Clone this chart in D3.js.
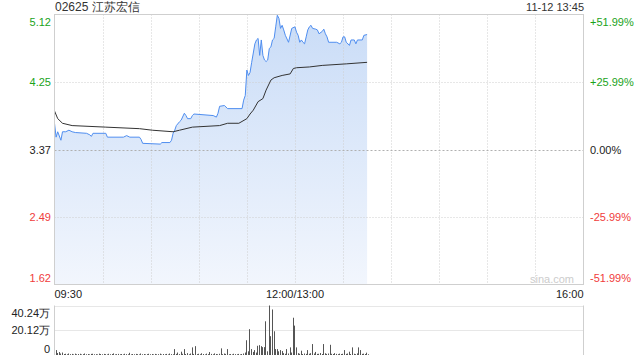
<!DOCTYPE html>
<html><head><meta charset="utf-8">
<script src="https://cdn.jsdelivr.net/npm/d3@7"></script>
<style>
html,body{margin:0;padding:0;background:#fff;}
svg{display:block;font-family:"Liberation Sans",Arial,sans-serif;}
</style></head>
<body>
<script>
// ---- data ----
const title = "02625 江苏宏信";
const stamp = "11-12 13:45";
const prevClose = 3.37;
const priceTicks = [5.12, 4.25, 3.37, 2.49, 1.62];
const priceTickLabels = ["5.12", "4.25", "3.37", "2.49", "1.62"];
const pctTickLabels = ["+51.99%", "+25.99%", "0.00%", "-25.99%", "-51.99%"];
const timeTickLabels = ["09:30", "12:00/13:00", "16:00"];
const timeTickMinutes = [0, 150, 330];
const volTicks = [40.24, 20.12, 0];
const volTickLabels = ["40.24万", "20.12万", "0"];

// trading minutes since 09:30 (lunch removed) and prices
const priceMin = [0,1,2,4,5,7,9,11,13,20,22,23,24,32,33,43,45,47,53,54,55,66,67,72,73,74,75,76,78,79,81,82,83,85,86,87,99,101,102,103,106,108,117,118,119,120,121,122,123,125,126,127,128,129,130,131,132,133,134,135,136,137,138,139,140,141,142,143,144,146,148,150,151,152,153,154,155,156,157,158,159,160,161,163,164,165,167,168,169,170,171,176,178,179,180,181,182,184,185,187,188,189,192,193,195];
const price = [3.71,3.53,3.60,3.49,3.60,3.60,3.62,3.60,3.59,3.58,3.56,3.54,3.58,3.58,3.53,3.53,3.55,3.53,3.53,3.50,3.45,3.44,3.46,3.46,3.49,3.58,3.62,3.68,3.73,3.75,3.84,3.81,3.77,3.77,3.81,3.83,3.81,3.79,3.84,3.93,3.94,3.90,3.90,4.01,4.07,4.40,4.33,4.37,4.50,4.74,4.79,4.81,4.59,4.79,4.59,4.53,4.51,4.53,4.68,4.70,4.79,4.81,4.96,5.11,5.07,4.94,4.98,4.92,4.85,4.76,4.94,4.96,4.89,4.85,4.76,4.79,4.76,4.74,4.83,4.92,4.96,4.98,4.94,4.93,4.92,4.87,4.90,4.93,4.87,4.83,4.76,4.76,4.74,4.76,4.83,4.83,4.76,4.72,4.79,4.79,4.74,4.79,4.79,4.85,4.86];

const avgMin = [0,2,5,11,32,53,61,74,78,86,103,108,115,120,122,124,127,130,132,135,137,142,147,149,151,159,167,182,195];
const avgPrice = [3.87,3.77,3.71,3.68,3.66,3.64,3.62,3.60,3.62,3.66,3.68,3.71,3.71,3.77,3.83,3.88,3.99,4.03,4.14,4.27,4.30,4.33,4.35,4.42,4.43,4.44,4.46,4.48,4.50];

// volume per trading minute (万股), minutes 0..195
const volume = [
4.0,1.6,2.4,1.2,2.0,0.8,1.0,0.6,1.2,0.7,
0.9,0.5,1.1,0.6,0.8,1.0,0.5,0.7,1.2,0.6,
0.8,0.5,0.9,1.0,0.6,0.7,0.5,1.1,0.8,0.6,
0.9,0.7,0.5,1.0,0.6,0.8,1.3,0.5,0.7,0.9,
0.6,0.8,0.5,1.0,0.7,0.6,1.8,0.5,0.8,0.6,
0.9,0.7,0.5,1.2,0.6,0.8,0.5,0.7,1.0,0.6,
0.8,0.5,0.9,0.6,0.7,1.1,0.5,0.8,0.6,0.9,
0.5,1.2,0.7,0.6,4.8,0.9,2.0,0.7,2.7,1.0,
4.8,0.8,1.5,0.6,1.2,6.2,0.9,7.2,0.7,1.0,
0.6,1.4,0.8,0.5,1.1,0.7,2.4,0.9,0.6,1.3,
0.8,0.6,1.0,5.4,0.7,1.2,0.9,4.8,0.6,0.8,
0.5,1.0,0.7,0.6,0.9,0.5,0.8,1.2,2.0,12.0,
3.0,21.0,4.8,2.5,4.0,2.0,7.5,8.0,7.2,6.4,
6.4,27.4,3.0,40.24,15.3,37.0,19.3,4.8,4.8,3.0,
4.0,3.2,1.5,1.0,4.8,1.2,6.2,2.0,30.3,23.9,
6.2,1.5,1.0,3.5,0.8,1.2,0.9,4.0,1.0,1.5,
8.9,1.2,2.5,0.9,1.0,1.6,0.8,8.9,1.4,0.9,
1.2,8.3,1.0,0.8,1.5,0.9,0.7,1.1,0.8,1.0,
4.0,0.9,1.2,2.7,0.8,6.2,1.0,0.7,1.3,6.2,
4.0,0.9,1.1,0.8,1.9,0.6
];

// ---- layout ----
const W = 640, H = 360;
const L = 54.5, R = 583.5, T = 14.5, B = 284.5;
const VT = 305.5, VB = 355;

const svg = d3.select("body").append("svg").attr("width", W).attr("height", H);

const x = d3.scaleLinear().domain([0, 330]).range([L, R]);
const y = d3.scaleLinear().domain([1.62, 5.12]).range([B, T]);
const yv = d3.scaleLinear().domain([0, 40.24]).range([VB, VT]);

const green = "#1aa31a", red = "#f03c3c", dark = "#222";
const colorFor = (v) => v > prevClose + 1e-9 ? green : (v < prevClose - 1e-9 ? red : dark);

// gradient
const defs = svg.append("defs");
const grad = defs.append("linearGradient").attr("id", "fillg")
  .attr("gradientUnits", "userSpaceOnUse").attr("x1", 0).attr("x2", 0).attr("y1", T).attr("y2", B);
grad.append("stop").attr("offset", 0).attr("stop-color", "#c9dcf7");
grad.append("stop").attr("offset", 1).attr("stop-color", "#f2f6fd");

// area
const pts = priceMin.map((m, i) => [m, price[i]]);
svg.append("path").datum(pts)
  .attr("d", d3.area().x(d => x(d[0])).y0(B).y1(d => y(d[1])))
  .attr("fill", "url(#fillg)");

// vertical grid
const vgrid = d3.range(1, 11).map(i => i * 30);
svg.append("g").selectAll("line").data(vgrid).join("line")
  .attr("x1", d => Math.round(x(d)) + 0.5).attr("x2", d => Math.round(x(d)) + 0.5)
  .attr("y1", T).attr("y2", B)
  .attr("stroke", "#cfcfcf").attr("stroke-dasharray", "1,2");

// horizontal grid
svg.append("g").selectAll("line").data(priceTicks.slice(1, 4)).join("line")
  .attr("x1", L).attr("x2", R)
  .attr("y1", d => Math.round(y(d)) + 0.5).attr("y2", d => Math.round(y(d)) + 0.5)
  .attr("stroke", (d, i) => i === 1 ? "#b0b0b0" : "#cfcfcf")
  .attr("stroke-dasharray", (d, i) => i === 1 ? "2,2" : "1,2");

// lines
svg.append("path").datum(pts)
  .attr("d", d3.line().x(d => x(d[0])).y(d => y(d[1])))
  .attr("fill", "none").attr("stroke", "#4f8ef0").attr("stroke-width", 1);
const apts = avgMin.map((m, i) => [m, avgPrice[i]]);
svg.append("path").datum(apts)
  .attr("d", d3.line().x(d => x(d[0])).y(d => y(d[1])))
  .attr("fill", "none").attr("stroke", "#333").attr("stroke-width", 1);

// border
svg.append("rect").attr("x", L).attr("y", T).attr("width", R - L).attr("height", B - T)
  .attr("fill", "none").attr("stroke", "#cfcfcf");

// watermark
svg.append("text").attr("x", 574).attr("y", 283).attr("text-anchor", "end")
  .attr("font-size", 11).attr("fill", "#cccccc").text("sina.com");

// title
svg.append("text").attr("x", 55).attr("y", 11).attr("font-size", 12).attr("fill", "#333").text(title);
svg.append("text").attr("x", 584).attr("y", 11).attr("text-anchor", "end").attr("font-size", 11).attr("fill", "#333").text(stamp);

// y labels
const labelY = (v, i) => {
  const p = y(v);
  if (i === 0) return p + 11;
  if (i === priceTicks.length - 1) return p - 3;
  return p + 4;
};
svg.append("g").selectAll("text").data(priceTicks).join("text")
  .attr("x", 51).attr("y", (d, i) => labelY(d, i)).attr("text-anchor", "end")
  .attr("font-size", 11).attr("fill", d => colorFor(d)).text((d, i) => priceTickLabels[i]);
svg.append("g").selectAll("text").data(priceTicks).join("text")
  .attr("x", 590).attr("y", (d, i) => labelY(d, i)).attr("text-anchor", "start")
  .attr("font-size", 11).attr("fill", d => colorFor(d)).text((d, i) => pctTickLabels[i]);

// x labels
svg.append("g").selectAll("text").data(timeTickMinutes).join("text")
  .attr("x", d => x(d)).attr("y", 298)
  .attr("text-anchor", (d, i) => i === 0 ? "start" : (i === timeTickMinutes.length - 1 ? "end" : "middle"))
  .attr("font-size", 11).attr("fill", "#222").text((d, i) => timeTickLabels[i]);

// volume grid
svg.append("g").selectAll("line").data(volTicks.slice(0, 2)).join("line")
  .attr("x1", L).attr("x2", R)
  .attr("y1", d => Math.round(yv(d)) + 0.5).attr("y2", d => Math.round(yv(d)) + 0.5)
  .attr("stroke", "#cfcfcf").attr("stroke-dasharray", "1,1");
svg.append("line").attr("x1", L).attr("x2", L).attr("y1", VT).attr("y2", VB).attr("stroke", "#cfcfcf");
svg.append("line").attr("x1", R).attr("x2", R).attr("y1", VT).attr("y2", VB).attr("stroke", "#cfcfcf");

// volume bars
svg.append("g").selectAll("rect").data(volume).join("rect")
  .attr("x", (d, i) => Math.round(x(i)) + 1).attr("width", 1)
  .attr("y", d => yv(d)).attr("height", d => VB - yv(d))
  .attr("fill", "#555");

// volume labels
svg.append("g").selectAll("text").data(volTicks).join("text")
  .attr("x", 50).attr("y", (d, i) => i === 0 ? yv(d) + 11 : (i === 2 ? yv(d) - 2 : yv(d) + 4))
  .attr("text-anchor", "end").attr("font-size", 11).attr("fill", "#222")
  .text((d, i) => volTickLabels[i]);
</script>
</body></html>
